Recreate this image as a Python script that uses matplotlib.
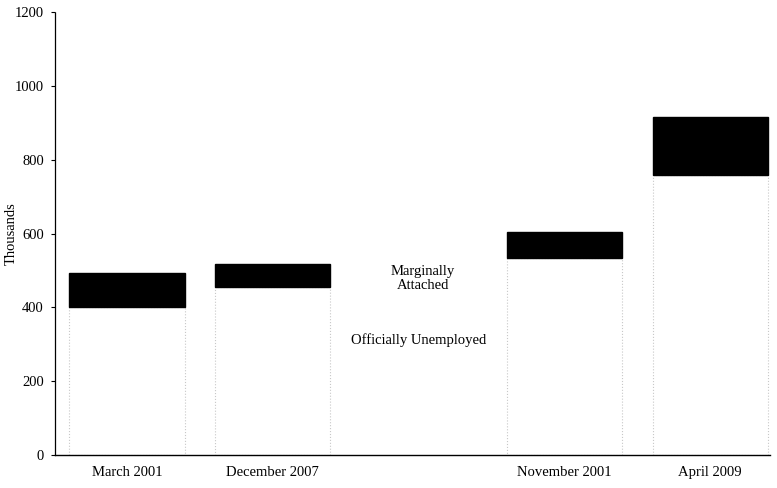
import matplotlib.pyplot as plt

categories = ["March 2001", "December 2007", "", "November 2001", "April 2009"]
officially_unemployed = [400, 455, 0, 534, 759]
marginally_attached = [93, 63, 0, 70, 157]
y_ticks = [0, 200, 400, 600, 800, 1000, 1200]

plt.rcParams["font.family"] = ["Liberation Serif", "DejaVu Serif"]

fig = plt.figure(figsize=(7.77, 4.88), dpi=100)
ax = fig.add_axes([0.0708, 0.0676, 0.92, 0.9074])

x = list(range(len(categories)))
# middle slot only carries the legend text
shown = [i for i in x if officially_unemployed[i] + marginally_attached[i] > 0]
ax.bar(shown, [officially_unemployed[i] for i in shown], width=0.79,
       color="white", edgecolor="#c8c8c8", linestyle=":", linewidth=0.8)
ax.bar(shown, [marginally_attached[i] for i in shown], width=0.79,
       bottom=[officially_unemployed[i] for i in shown],
       color="black", edgecolor="black")

ax.text(2.03, 478, "Marginally\nAttached", ha="center", va="center",
        fontsize=10.5, linespacing=1.1)
ax.text(2.0, 312, "Officially Unemployed", ha="center", va="center",
        fontsize=10.5)

ax.set_xlim(-0.494, 4.41)
ax.set_ylim(0, 1200)
ax.set_yticks(y_ticks)
ax.set_xticks(x)
ax.set_xticklabels(categories)
ax.tick_params(axis="x", length=0, pad=8, labelsize=10.5)
ax.tick_params(axis="y", length=3, labelsize=10.5, direction="out", pad=5)
ax.set_ylabel("Thousands", fontsize=10.5)
ax.yaxis.set_label_coords(-0.052, 0.5)

ax.spines["top"].set_visible(False)
ax.spines["right"].set_visible(False)
ax.spines["left"].set_linestyle((0, (4, 1)))
ax.spines["left"].set_linewidth(0.9)
ax.spines["bottom"].set_linewidth(1.0)

plt.savefig("out.png", dpi=100)
plt.close()
